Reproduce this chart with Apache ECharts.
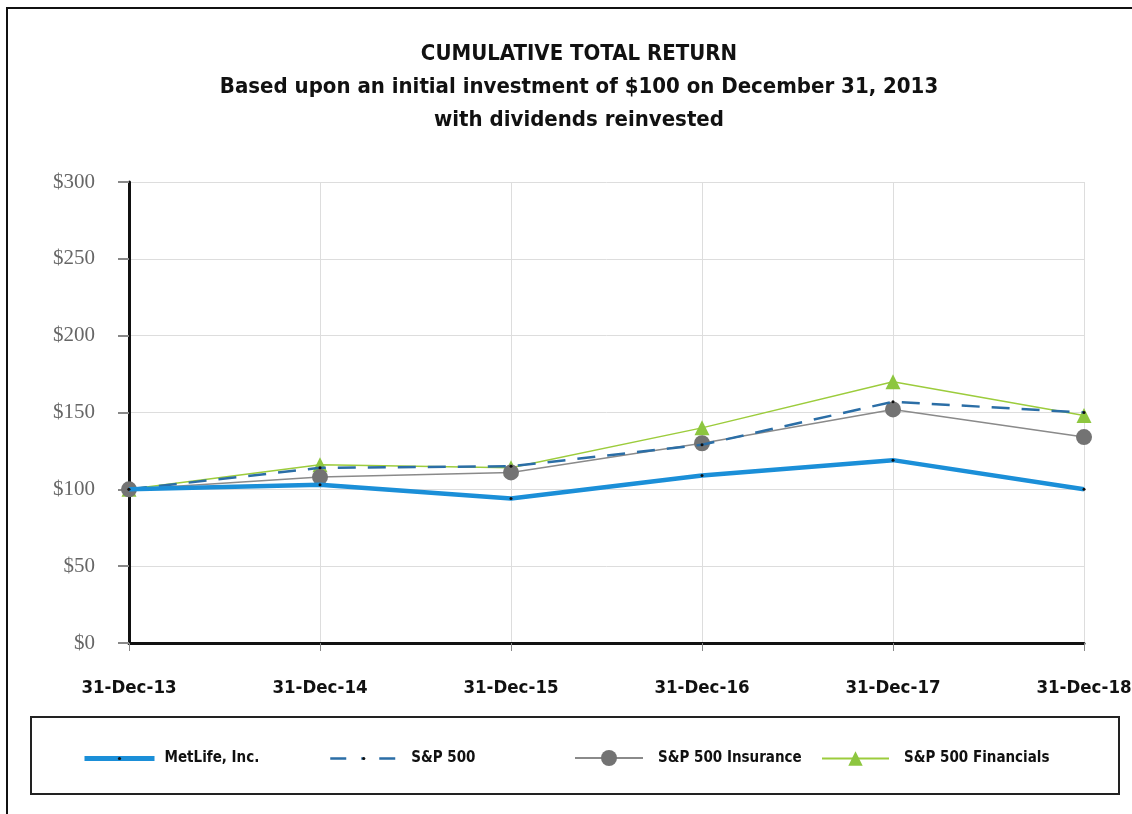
<!DOCTYPE html>
<html>
<head>
<meta charset="utf-8">
<script src="https://cdn.jsdelivr.net/npm/echarts@6/dist/echarts.min.js"></script>
<style>
  html, body { margin: 0; padding: 0; background: #fff; }
  #chart { width: 1132px; height: 814px; }
</style>
</head>
<body>
<div id="chart"></div>
<script>
// data
const years = ['31-Dec-13', '31-Dec-14', '31-Dec-15', '31-Dec-16', '31-Dec-17', '31-Dec-18'];
const metlife = [100, 103, 94, 109, 119, 100];
const sp500 = [100, 114, 115, 129, 157, 150];
const spInsurance = [100, 108, 111, 130, 152, 134];
const spFinancials = [100, 116, 114, 140, 170, 148];

const narrow = '"Liberation Sans Narrow", "DejaVu Sans Condensed", sans-serif';

const chart = echarts.init(document.getElementById('chart'));

// one legend per entry so each can sit where it does in the original
function legendAt(name, left, iconW, iconH, textGap, extra) {
    return Object.assign({
        data: [name],
        left: left,
        top: 760 - Math.max(iconH, 18) / 2,
        padding: 0,
        itemWidth: iconW,
        itemHeight: iconH,
        itemGap: 0,
        textStyle: { fontFamily: narrow, fontWeight: 'bold', fontSize: 15, color: '#111', padding: [0, 0, 0, textGap] }
    }, extra || {});
}

const option = {
    animation: false,
    backgroundColor: '#fff',
    title: {
        text: 'CUMULATIVE TOTAL RETURN\nBased upon an initial investment of $100 on December 31, 2013\nwith dividends reinvested',
        left: 574,
        top: 33,
        textAlign: 'center',
        textStyle: {
            fontFamily: narrow,
            fontWeight: 'bold',
            fontSize: 22,
            lineHeight: 33,
            color: '#111'
        }
    },
    legend: [
        legendAt('MetLife, Inc.', 82, 70, 4, 5, { lineStyle: { width: 5 } }),
        legendAt('S&P 500', 329, 67, 4, 9, { lineStyle: { width: 2.5, type: [16, 15, 3, 15] } }),
        legendAt('S&P 500 Insurance', 574, 68, 20, 10),
        legendAt('S&P 500 Financials', 821, 67, 18, 10)
    ],
    graphic: [
        {
            type: 'rect',
            shape: { x: 7, y: 8, width: 1200, height: 900 },
            style: { fill: 'none', stroke: '#111', lineWidth: 2 },
            silent: true
        },
        {
            type: 'rect',
            shape: { x: 31, y: 717, width: 1088, height: 77 },
            style: { fill: 'none', stroke: '#222', lineWidth: 2 },
            silent: true
        }
    ],
    grid: { left: 129, right: 48, top: 182, bottom: 171, outerBoundsMode: 'none' },
    xAxis: {
        type: 'category',
        data: years,
        boundaryGap: false,
        axisLine: { lineStyle: { color: '#111', width: 3 } },
        axisTick: { show: true, length: 8, lineStyle: { color: '#888' } },
        axisLabel: {
            margin: 36,
            fontFamily: narrow,
            fontWeight: 'bold',
            fontSize: 18.5,
            color: '#111'
        },
        splitLine: { show: true, lineStyle: { color: '#ddd', width: 1 } }
    },
    yAxis: {
        type: 'value',
        min: 0,
        max: 300,
        interval: 50,
        axisLine: { show: true, lineStyle: { color: '#111', width: 3 } },
        axisTick: { show: true, length: 11, lineStyle: { color: '#888', width: 2 } },
        axisLabel: {
            margin: 34,
            fontFamily: '"Liberation Serif", serif',
            fontSize: 21,
            color: '#666',
            formatter: v => '$' + v
        },
        splitLine: { lineStyle: { color: '#ddd', width: 1 } }
    },
    series: [
        {
            name: 'MetLife, Inc.',
            type: 'line',
            data: metlife,
            symbol: 'circle',
            symbolSize: 3,
            itemStyle: { color: '#111' },
            lineStyle: { color: '#1b8fd8', width: 4.5 },
            z: 5
        },
        {
            name: 'S&P 500',
            type: 'line',
            data: sp500,
            symbol: 'circle',
            symbolSize: 3,
            itemStyle: { color: '#111' },
            lineStyle: { color: '#2b6ea6', width: 2.5, type: [18, 12] },
            z: 4
        },
        {
            name: 'S&P 500 Insurance',
            type: 'line',
            data: spInsurance,
            symbol: 'circle',
            symbolSize: 16,
            itemStyle: { color: '#737373' },
            lineStyle: { color: '#8a8a8a', width: 1.5 },
            z: 3
        },
        {
            name: 'S&P 500 Financials',
            type: 'line',
            data: spFinancials,
            symbol: 'triangle',
            symbolSize: 15,
            itemStyle: { color: '#8dc63f' },
            lineStyle: { color: '#9ccc3c', width: 1.5 },
            z: 2
        }
    ]
};

chart.setOption(option);
</script>
</body>
</html>
